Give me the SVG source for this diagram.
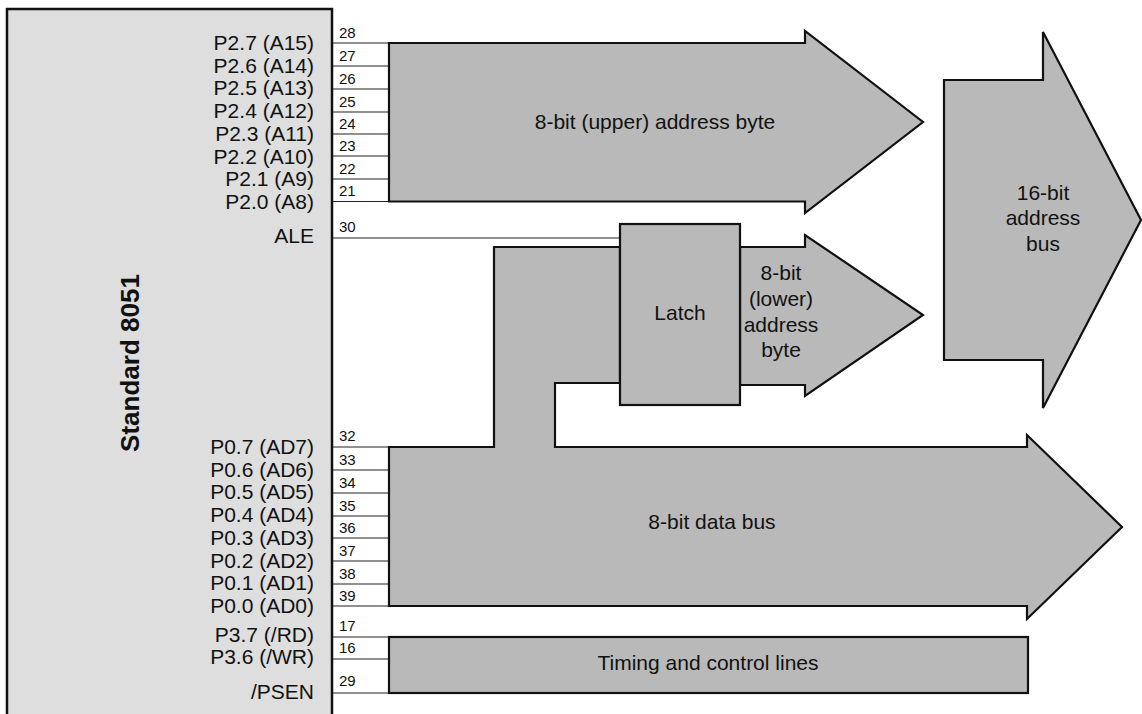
<svg xmlns="http://www.w3.org/2000/svg" width="1142" height="714" viewBox="0 0 1142 714">
<style>
text{font-family:"Liberation Sans",Arial,sans-serif;fill:#111}
.pin{font-size:21px;text-anchor:end}
.num{font-size:15px}
.lbl{font-size:21px;text-anchor:middle}
.bus{fill:#b9b9b9;stroke:#111;stroke-width:2.2;stroke-linejoin:miter}
.pl{stroke:#222;stroke-width:1.2;fill:none}
</style>
<rect width="1142" height="714" fill="#fff"/>
<g id="chip">
<rect x="7" y="9" width="325" height="720" fill="#dedede" stroke="#111" stroke-width="2.5"/>
<text transform="translate(139,363) rotate(-90)" font-size="26" font-weight="bold" text-anchor="middle">Standard 8051</text>
<text class="pin" x="314" y="50">P2.7 (A15)</text>
<text class="pin" x="314" y="72.7">P2.6 (A14)</text>
<text class="pin" x="314" y="95.4">P2.5 (A13)</text>
<text class="pin" x="314" y="118.1">P2.4 (A12)</text>
<text class="pin" x="314" y="140.8">P2.3 (A11)</text>
<text class="pin" x="314" y="163.5">P2.2 (A10)</text>
<text class="pin" x="314" y="186.2">P2.1 (A9)</text>
<text class="pin" x="314" y="208.9">P2.0 (A8)</text>
<text class="pin" x="314" y="243">ALE</text>
<text class="pin" x="314" y="454">P0.7 (AD7)</text>
<text class="pin" x="314" y="476.7">P0.6 (AD6)</text>
<text class="pin" x="314" y="499.4">P0.5 (AD5)</text>
<text class="pin" x="314" y="522.1">P0.4 (AD4)</text>
<text class="pin" x="314" y="544.8">P0.3 (AD3)</text>
<text class="pin" x="314" y="567.5">P0.2 (AD2)</text>
<text class="pin" x="314" y="590.2">P0.1 (AD1)</text>
<text class="pin" x="314" y="612.9">P0.0 (AD0)</text>
<text class="pin" x="314" y="642">P3.7 (/RD)</text>
<text class="pin" x="314" y="664">P3.6 (/WR)</text>
<text class="pin" x="314" y="699">/PSEN</text>
</g>
<g id="connectors">
<path class="pl" d="M333 43H389M333 66H389M333 89H389M333 112H389M333 134H389M333 156H389M333 179H389M333 201.5H389"/>
<path class="pl" d="M333 238H620"/>
<path class="pl" d="M333 447H389M333 470H389M333 493H389M333 516H389M333 538H389M333 561H389M333 584H389M333 606H389"/>
<path class="pl" d="M333 637H389M333 659H389M333 693H389"/>
<g class="num">
<text x="339" y="38">28</text><text x="339" y="61">27</text><text x="339" y="84">26</text><text x="339" y="107">25</text>
<text x="339" y="129">24</text><text x="339" y="151">23</text><text x="339" y="174">22</text><text x="339" y="196">21</text>
<text x="339" y="232">30</text>
<text x="339" y="441">32</text><text x="339" y="465">33</text><text x="339" y="488">34</text><text x="339" y="511">35</text>
<text x="339" y="533">36</text><text x="339" y="556">37</text><text x="339" y="579">38</text><text x="339" y="601">39</text>
<text x="339" y="631">17</text><text x="339" y="653">16</text><text x="339" y="686">29</text>
</g>
</g>
<g id="upper-bus">
<polygon class="bus" points="389,43 805,43 805,31 923,122 805,213 805,201.5 389,201.5"/>
<text class="lbl" x="655" y="129">8-bit (upper) address byte</text>
</g>
<g id="data-bus">
<polygon class="bus" points="389,447 494,447 494,247 620,247 620,383 555,383 555,447 1027,447 1027,435 1122,527 1027,619 1027,606 389,606"/>
<text class="lbl" x="712" y="529">8-bit data bus</text>
</g>
<g id="lower-bus">
<polygon class="bus" points="740,247 805,247 805,235 923,315 805,396 805,385 740,385"/>
<text class="lbl" x="781" y="280">8-bit</text>
<text class="lbl" x="781" y="306">(lower)</text>
<text class="lbl" x="781" y="332">address</text>
<text class="lbl" x="781" y="357">byte</text>
</g>
<g id="latch">
<rect class="bus" x="620" y="224" width="120" height="181"/>
<text class="lbl" x="680" y="320">Latch</text>
</g>
<g id="address-bus">
<polygon class="bus" points="944,80 1043,80 1043,32 1141,220 1043,408 1043,360 944,360"/>
<text class="lbl" x="1043" y="200">16-bit</text>
<text class="lbl" x="1043" y="225">address</text>
<text class="lbl" x="1043" y="251">bus</text>
</g>
<g id="timing">
<rect class="bus" x="389" y="637" width="639" height="56"/>
<text class="lbl" x="708" y="670">Timing and control lines</text>
</g>
</svg>
